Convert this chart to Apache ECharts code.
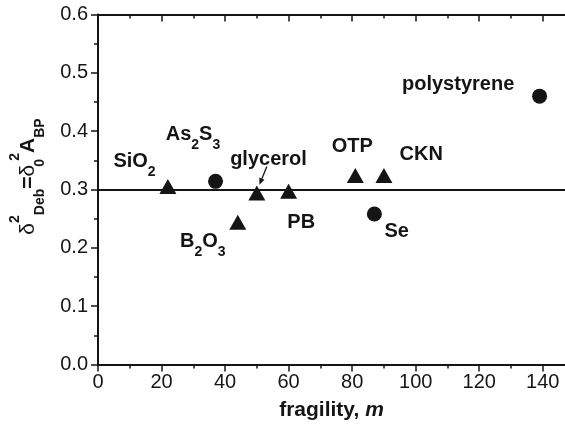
<!DOCTYPE html>
<html><head><meta charset="utf-8">
<script src="https://cdn.jsdelivr.net/npm/echarts@6/dist/echarts.min.js"></script>
<style>html,body{margin:0;padding:0;background:#fff}#c{width:565px;height:428px}</style>
</head><body><div id="c"></div>
<script>
// ---- data ----
const triNames = ['SiO2', 'glycerol', 'PB', 'B2O3', 'OTP', 'CKN'];
const triFragility = [22, 50, 60, 44, 81, 90];
const triValue = [0.305, 0.294, 0.297, 0.244, 0.324, 0.324];
const circNames = ['As2S3', 'Se', 'polystyrene'];
const circFragility = [37, 87, 139];
const circValue = [0.314, 0.258, 0.46];
const refLevel = 0.3;
const xMajorTicks = [0, 20, 40, 60, 80, 100, 120, 140];
const xMinorTicks = [10, 30, 50, 70, 90, 110, 130];
const xTitle = 'fragility, ';
const xTitleItalic = 'm';

// ---- layout / style ----
const INK = '#151515';
const FONT = '"Liberation Sans", Arial, Helvetica, sans-serif';
const labelOffsets = {
  'SiO2': [-54.5, -25], 'glycerol': [-26.7, -33.3], 'PB': [-1.3, 31],
  'B2O3': [-57.8, 19.2], 'OTP': [-23.7, -29.5], 'CKN': [15.7, -20.8],
  'As2S3': [-49.8, -46.7], 'Se': [10, 17.4], 'polystyrene': [-137.6, -11.2]
};
const subStyle = {fontSize: 14, fontWeight: 'bold', fontFamily: FONT, color: INK, padding: [22, 0, 0, 0], verticalAlign: 'middle'};
function richName(n) { return n.replace(/(\d)/g, '{s|$1}'); }
function items(names, xs, ys) {
  return names.map((n, i) => ({
    name: n, value: [xs[i], ys[i]],
    label: {offset: labelOffsets[n]}
  }));
}
const labelCfg = {
  show: true, position: 'inside', align: 'left', verticalAlign: 'middle',
  formatter: p => richName(p.name),
  fontSize: 20, fontWeight: 'bold', fontFamily: FONT, color: INK,
  rich: {s: subStyle}
};
const axisBase = {min: 0, max: 147, type: 'value', splitLine: {show: false}};

const chart = echarts.init(document.getElementById('c'), null, {renderer: 'canvas'});
chart.setOption({
  animation: false,
  backgroundColor: '#fff',
  grid: {left: 98, right: 0, top: 14.5, bottom: 63.5, containLabel: false},
  xAxis: [
    Object.assign({}, axisBase, {
      position: 'bottom',
      axisLine: {show: true, onZero: false, lineStyle: {color: INK, width: 2}},
      axisTick: {show: true, inside: false, length: 7, customValues: xMajorTicks, lineStyle: {color: INK, width: 1.5}},
      axisLabel: {show: true, customValues: xMajorTicks, margin: 8, fontSize: 20, fontFamily: FONT, color: INK},
      name: '{b|' + xTitle + '}{i|' + xTitleItalic + '}',
      nameLocation: 'middle', nameGap: 35,
      nameTextStyle: {rich: {
        b: {fontSize: 21, fontWeight: 'bold', fontFamily: FONT, color: INK},
        i: {fontSize: 21, fontWeight: 'bold', fontStyle: 'italic', fontFamily: FONT, color: INK}
      }}
    }),
    Object.assign({}, axisBase, {
      position: 'bottom',
      axisLine: {show: false, onZero: false},
      axisTick: {show: true, inside: false, length: 4, customValues: xMinorTicks, lineStyle: {color: INK, width: 1.5}},
      axisLabel: {show: false}
    }),
    Object.assign({}, axisBase, {
      position: 'top',
      axisLine: {show: true, onZero: false, lineStyle: {color: INK, width: 2}},
      axisTick: {show: true, inside: true, length: 7, customValues: xMajorTicks, lineStyle: {color: INK, width: 1.5}},
      axisLabel: {show: false}
    }),
    Object.assign({}, axisBase, {
      position: 'top',
      axisLine: {show: false, onZero: false},
      axisTick: {show: true, inside: true, length: 4, customValues: xMinorTicks, lineStyle: {color: INK, width: 1.5}},
      axisLabel: {show: false}
    })
  ],
  yAxis: {
    type: 'value', min: 0, max: 0.6, interval: 0.1,
    splitLine: {show: false},
    axisLine: {show: true, onZero: false, lineStyle: {color: INK, width: 2}},
    axisTick: {show: true, inside: false, length: 7, lineStyle: {color: INK, width: 1.5}},
    minorTick: {show: true, splitNumber: 2, length: 4, lineStyle: {color: INK, width: 1.5}},
    axisLabel: {margin: 10, fontSize: 20, fontFamily: FONT, color: INK, formatter: v => v.toFixed(1)}
  },
  series: [
    {
      type: 'line', data: [], xAxisIndex: 0, yAxisIndex: 0, silent: true,
      markLine: {
        silent: true, symbol: ['none', 'none'], label: {show: false},
        lineStyle: {color: INK, width: 2, type: 'solid'},
        data: [{yAxis: refLevel}]
      }
    },
    {
      type: 'scatter', name: 'triangles', xAxisIndex: 0, yAxisIndex: 0,
      symbol: 'triangle', symbolSize: [17, 15],
      itemStyle: {color: INK, opacity: 1},
      label: labelCfg,
      data: items(triNames, triFragility, triValue)
    },
    {
      type: 'scatter', name: 'circles', xAxisIndex: 0, yAxisIndex: 0,
      symbol: 'circle', symbolSize: 15,
      itemStyle: {color: INK, opacity: 1},
      label: labelCfg,
      data: items(circNames, circFragility, circValue)
    }
  ]
});

// y-axis title and glycerol arrow as graphics
const gi = triNames.indexOf('glycerol');
const gp = chart.convertToPixel({xAxisIndex: 0, yAxisIndex: 0}, [triFragility[gi], triValue[gi]]);
const tail = [gp[0] + 10, gp[1] - 26.6];
const tip = [gp[0] + 2.6, gp[1] - 8.3];
const dx = tip[0] - tail[0], dy = tip[1] - tail[1];
const L = Math.hypot(dx, dy), ux = dx / L, uy = dy / L;
const hl = 6.5, hw = 2.8;
const base = [tip[0] - ux * hl, tip[1] - uy * hl];
const yRich = {
  d: {fontSize: 21, fontFamily: FONT, color: INK, verticalAlign: 'middle'},
  b: {fontSize: 21, fontWeight: 'bold', fontFamily: FONT, color: INK, verticalAlign: 'middle'},
  sup: {fontSize: 14, fontWeight: 'bold', fontFamily: FONT, color: INK, padding: [0, 0, 26, 0], verticalAlign: 'middle'},
  sub: {fontSize: 14, fontWeight: 'bold', fontFamily: FONT, color: INK, padding: [24, 0, 0, 0], verticalAlign: 'middle'},
  sub0: {fontSize: 14, fontWeight: 'bold', fontFamily: FONT, color: INK, padding: [24, 0, 0, 0], width: 4, verticalAlign: 'middle'}
};
chart.setOption({
  graphic: [
    {
      type: 'text', x: 28, y: 176.5, rotation: Math.PI / 2, silent: true,
      style: {
        text: '{d|δ}{sup|2}{sub|Deb}{b|=}{d|δ}{sub0|0}{sup|2}{b|A}{sub|BP}',
        rich: yRich, align: 'center', verticalAlign: 'middle', fill: INK
      }
    },
    {
      type: 'line', silent: true,
      shape: {x1: tail[0], y1: tail[1], x2: base[0], y2: base[1]},
      style: {stroke: INK, lineWidth: 1.3}
    },
    {
      type: 'polygon', silent: true,
      shape: {points: [tip, [base[0] - uy * hw, base[1] + ux * hw], [base[0] + uy * hw, base[1] - ux * hw]]},
      style: {fill: INK}
    }
  ]
});
</script>
</body></html>
